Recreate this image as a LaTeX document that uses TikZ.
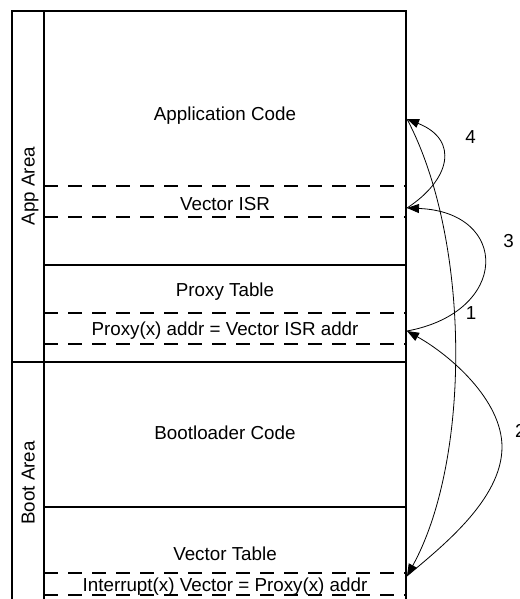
\documentclass[tikz,border=0pt]{standalone}
\usepackage{fontspec}
\setmainfont{Liberation Sans}
\usetikzlibrary{arrows.meta}
\begin{document}
\begin{tikzpicture}[x=1pt,y=-1pt,
  every node/.style={inner sep=0pt,font=\fontsize{18.8pt}{22pt}\selectfont},
  frame/.style={line width=1.8pt,line cap=rect},
  dline/.style={line width=1.8pt,dash pattern=on 14pt off 10pt},
  lbl/.style={anchor=base},
  flow/.style={line width=0.8pt,-{Triangle[length=12pt,width=9pt]}}]
\useasboundingbox (0,0) rectangle (519,599);
% frame
\draw[frame] (12,615) -- (12,11) -- (406,11) -- (406,615);
\draw[frame] (44,11) -- (44,615);
\draw[frame] (12,362) -- (406,362);
\draw[frame] (44,265) -- (406,265);
\draw[frame] (44,507) -- (406,507);
% dashed separators
\foreach \yy in {186,217,313,344,573,595}
  \draw[dline] (44,\yy) -- (406,\yy);
% texts
\node[lbl] (appcode) at (225,120.7) {Application Code};
\node[lbl] (visr) at (225,210) {Vector ISR};
\node[lbl] (ptable) at (225,296) {Proxy Table};
\node[lbl] (paddr) at (225,335.5) {Proxy(x) addr = Vector ISR addr};
\node[lbl] (bcode) at (225,439) {Bootloader Code};
\node[lbl] (vtable) at (225,560.7) {Vector Table};
\node[lbl] (ivec) at (225,591.7) {Interrupt(x) Vector = Proxy(x) addr};
\node[rotate=90,anchor=base] (apparea) at (34.5,186.2) {App Area};
\node[rotate=90,anchor=base] (bootarea) at (34.5,483) {Boot Area};
% connector end points
\coordinate (app) at (407,119);
\coordinate (isr) at (407,208);
\coordinate (proxy) at (407,331);
\coordinate (intv) at (407,576);
\coordinate (bmax) at (502,447);
% connectors
\draw[flow] (app) .. controls (471,240) and (471,460) .. (intv);
\draw[flow] (intv) .. controls (440,548) and (502,500) .. (bmax)
  .. controls (502,400) and (450,355) .. (proxy);
\draw[flow] (proxy) .. controls (510,312) and (510,212) .. (isr);
\draw[flow] (isr) .. controls (450,180) and (460,140) .. (app);
% step labels
\node[lbl] (n4) at (470.5,143) {4};
\node[lbl] (n3) at (508.5,247) {3};
\node[lbl] (n1) at (471,319) {1};
\node[anchor=base west] (n2) at (515,437) {2};
\end{tikzpicture}
\end{document}
